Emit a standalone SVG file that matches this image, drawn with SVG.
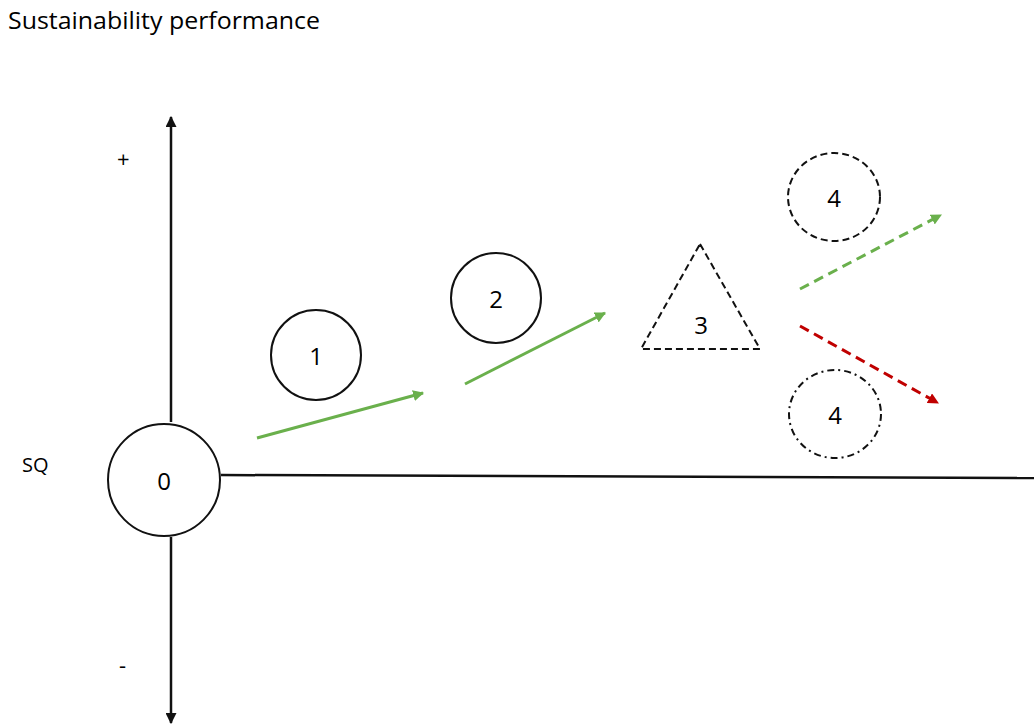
<svg xmlns="http://www.w3.org/2000/svg" width="1034" height="726" viewBox="0 0 1034 726">
<style>
text{font-family:"Open Sans","Liberation Sans",sans-serif;fill:#000}
.lbl{font-size:24px;text-anchor:middle}
.node{fill:#fff;stroke:#111;stroke-width:2}
.dash{stroke-dasharray:7 4}
.dashdot{stroke-dasharray:7 4 2 4}
.axis{stroke:#111;stroke-width:2.5;fill:none}
.g{stroke:#6ab04c;stroke-width:3;fill:none}
.r{stroke:#c00000;stroke-width:3;fill:none}
.gd{stroke-dasharray:10 6}
</style>
<defs>
<marker id="ak" viewBox="0 0 10 10" refX="9" refY="5" markerWidth="11" markerHeight="11" orient="auto" markerUnits="userSpaceOnUse"><path d="M0,0L10,5L0,10z" fill="#111"/></marker>
<marker id="ag" viewBox="0 0 10 10" refX="9" refY="5" markerWidth="11" markerHeight="11" orient="auto" markerUnits="userSpaceOnUse"><path d="M0,0L10,5L0,10z" fill="#6ab04c"/></marker>
<marker id="ar" viewBox="0 0 10 10" refX="9" refY="5" markerWidth="11" markerHeight="11" orient="auto" markerUnits="userSpaceOnUse"><path d="M0,0L10,5L0,10z" fill="#c00000"/></marker>
</defs>
<text x="8" y="29" font-size="23" textLength="312" lengthAdjust="spacingAndGlyphs">Sustainability performance</text>
<text x="22" y="472" font-size="20">SQ</text>
<text x="117" y="167" font-size="22">+</text>
<text x="119" y="673" font-size="22">-</text>
<g id="connectors">
<line class="axis" x1="171" y1="422" x2="171" y2="117" marker-end="url(#ak)"/>
<line class="axis" x1="171" y1="537" x2="171" y2="723" marker-end="url(#ak)"/>
<line class="axis" x1="221" y1="475" x2="1034" y2="478"/>
<line class="g" x1="257" y1="438" x2="423" y2="393" marker-end="url(#ag)"/>
<line class="g" x1="465" y1="384" x2="605" y2="313" marker-end="url(#ag)"/>
<line class="g gd" x1="800" y1="289" x2="941" y2="215" marker-end="url(#ag)"/>
<line class="r gd" x1="800" y1="326" x2="938" y2="403" marker-end="url(#ar)"/>
</g>
<g id="n0"><circle class="node" cx="164" cy="480" r="56"/><text class="lbl" x="164" y="490">0</text></g>
<g id="n1"><circle class="node" cx="316" cy="355" r="45"/><text class="lbl" x="316" y="365">1</text></g>
<g id="n2"><circle class="node" cx="496" cy="298" r="45"/><text class="lbl" x="496" y="308">2</text></g>
<g id="n3"><polygon class="node dash" points="700,244 760,349 641,349"/><text class="lbl" x="701" y="334">3</text></g>
<g id="n4a"><ellipse class="node dash" cx="834" cy="197" rx="46" ry="44"/><text class="lbl" x="834" y="207">4</text></g>
<g id="n4b"><ellipse class="node dashdot" cx="835" cy="414" rx="46" ry="44"/><text class="lbl" x="835" y="424">4</text></g>
</svg>
